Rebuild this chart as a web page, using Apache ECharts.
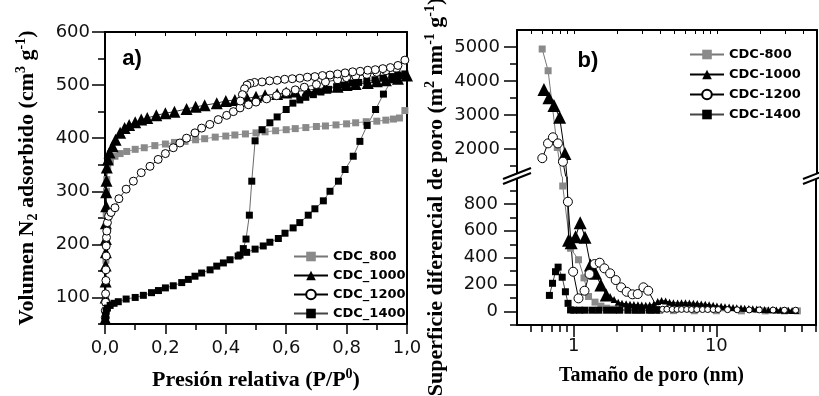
<!DOCTYPE html>
<html><head><meta charset="utf-8">
<script src="https://cdn.jsdelivr.net/npm/echarts@6/dist/echarts.min.js"></script>
<style>html,body{margin:0;padding:0;background:#fff}#c{width:819px;height:396px}</style>
</head><body><div id="c"></div>
<script>
// ---------- Panel a: N2 isotherms ----------
const isoNames = ['CDC_800', 'CDC_1000', 'CDC_1200', 'CDC_1400'];
const iso800 = [[0.002,62],[0.002,90],[0.003,130],[0.003,170],[0.004,210],[0.004,257],[0.005,300],[0.006,322],[0.009,345],[0.018,358],[0.033,366],[0.05,371],[0.072,375],[0.1,379],[0.13,382],[0.165,386],[0.2,389],[0.23,392],[0.265,394],[0.3,397],[0.33,399],[0.365,402],[0.4,404],[0.43,406],[0.465,408],[0.5,410],[0.53,412],[0.565,414],[0.6,416],[0.63,418],[0.665,420],[0.7,422],[0.73,423],[0.765,425],[0.8,427],[0.83,429],[0.865,431],[0.9,432],[0.93,434],[0.955,436],[0.975,438],[0.993,452]];
const iso1000 = [[0.001,60],[0.002,100],[0.002,130],[0.002,160],[0.003,185],[0.003,210],[0.003,240],[0.004,272],[0.004,298],[0.005,320],[0.006,345],[0.01,360],[0.015,373],[0.025,385],[0.035,397],[0.05,410],[0.065,419],[0.08,425],[0.1,430],[0.12,435],[0.14,438],[0.17,443],[0.2,447],[0.23,450],[0.27,455],[0.3,459],[0.33,462],[0.37,466],[0.4,470],[0.43,472],[0.47,475],[0.5,478],[0.53,481],[0.57,483],[0.6,486],[0.63,488],[0.67,490],[0.7,493],[0.73,495],[0.77,497],[0.8,500],[0.83,502],[0.87,504],[0.9,507],[0.93,509],[0.97,512],[1.0,518]];
const iso1200 = [[0.001,62],[0.001,75],[0.002,91],[0.002,107],[0.003,132],[0.003,152],[0.004,178],[0.004,197],[0.005,213],[0.006,225],[0.008,241],[0.012,253],[0.02,260],[0.033,269],[0.046,286],[0.07,304],[0.094,319],[0.12,335],[0.149,347],[0.176,360],[0.2,371],[0.226,382],[0.248,391],[0.27,400],[0.298,410],[0.32,419],[0.347,426],[0.375,435],[0.403,443],[0.425,450],[0.447,457],[0.475,463],[0.5,468],[0.535,474],[0.568,480],[0.6,486],[0.63,491],[0.66,496],[0.7,501],[0.73,506],[0.77,510],[0.8,514],[0.83,517],[0.867,520],[0.9,524],[0.93,527],[0.965,531],[0.993,547],[0.97,537],[0.945,533],[0.92,531],[0.895,529],[0.87,528],[0.845,526],[0.82,525],[0.795,523],[0.77,521],[0.745,519],[0.72,518],[0.695,516],[0.67,515],[0.645,513],[0.62,512],[0.595,511],[0.57,509],[0.545,508],[0.52,506],[0.495,505],[0.48,503],[0.47,500],[0.462,493],[0.455,482],[0.448,470]];
const iso1400 = [[0.001,58],[0.002,66],[0.004,74],[0.008,80],[0.017,85],[0.03,89],[0.044,92],[0.07,97],[0.1,100],[0.127,104],[0.154,109],[0.177,113],[0.2,118],[0.226,122],[0.254,128],[0.276,134],[0.298,140],[0.32,146],[0.348,152],[0.37,159],[0.392,165],[0.414,171],[0.441,178],[0.469,185],[0.497,191],[0.524,197],[0.546,204],[0.574,211],[0.596,221],[0.623,231],[0.645,241],[0.673,255],[0.695,267],[0.723,282],[0.745,300],[0.773,319],[0.795,341],[0.822,366],[0.844,394],[0.868,424],[0.896,454],[0.922,483],[0.95,510],[0.975,517],[0.993,521],[0.97,519],[0.95,516],[0.92,513],[0.894,510],[0.867,507],[0.84,505],[0.817,504],[0.79,500],[0.767,497],[0.74,492],[0.715,487],[0.69,482],[0.665,477],[0.645,472],[0.622,466],[0.6,454],[0.57,440],[0.546,429],[0.52,416],[0.497,395],[0.486,319],[0.478,255],[0.467,210],[0.458,192],[0.447,180]];
const xLabelsA = [0, 0.2, 0.4, 0.6, 0.8, 1.0];
const yLabelsA = [100, 200, 300, 400, 500, 600];

// ---------- Panel b: differential surface area ----------
const psdNames = ['CDC-800', 'CDC-1000', 'CDC-1200', 'CDC-1400'];
const psd800 = [[0.60,4940],[0.66,4300],[0.765,2040],[0.837,933],[0.95,470],[1.08,385],[1.18,250],[1.27,112],[1.41,70],[1.55,40],[1.7,25],[1.9,18],[2.1,15],[2.4,12],[2.7,10],[3.0,10],[3.5,8],[4.0,8],[5,7],[7,6],[10,6],[15,5],[22,5],[30,5],[37,5]];
const psd1000 = [[0.617,3744],[0.669,3506],[0.725,3277],[0.794,2930],[0.865,1860],[0.92,530],[0.96,512],[1.03,556],[1.11,660],[1.2,552],[1.31,346],[1.42,284],[1.55,197],[1.69,123],[1.8,112],[1.92,90],[2.05,70],[2.18,62],[2.33,58],[2.48,55],[2.64,52],[2.82,50],[3.0,48],[3.2,47],[3.41,48],[3.64,55],[3.88,75],[4.13,82],[4.41,78],[4.7,70],[5.0,66],[5.35,64],[5.7,65],[6.07,66],[6.47,64],[6.9,62],[7.35,60],[7.84,57],[8.36,54],[8.9,50],[9.5,46],[10.1,42],[10.8,39],[11.5,36],[12.3,33],[13.1,30],[13.9,28],[14.9,26],[15.8,24],[16.9,22],[18,20],[19.2,18],[20.4,17],[21.8,15],[23.2,14],[24.8,13],[26.4,12],[28.1,11],[30,10],[32,9],[34,8],[36,8]];
const psd1200 = [[0.601,1725],[0.659,2160],[0.713,2340],[0.773,2160],[0.838,1620],[0.91,816],[0.99,296],[1.08,98],[1.19,155],[1.29,279],[1.4,353],[1.52,363],[1.64,321],[1.8,284],[1.97,234],[2.15,180],[2.35,147],[2.58,128],[2.81,130],[3.08,180],[3.33,155],[3.9,18],[4.2,17],[4.5,17],[4.9,16],[5.3,16],[5.7,16],[6.2,16],[6.7,15],[7.3,15],[8,15],[8.7,15],[9.5,15],[10.3,15],[12,14],[14,13],[17,12],[20,12],[25,11],[30,10],[36,10]];
const psd1400 = [[0.675,120],[0.71,210],[0.745,296],[0.777,330],[0.83,255],[0.874,147],[0.912,61],[0.95,12],[1.0,10],[1.1,10],[1.2,10],[1.35,10],[1.5,10],[1.7,10],[1.9,10],[2.1,10],[2.4,10],[2.7,10],[3.0,10],[3.4,10],[3.8,10]];
const yLabelsBUpper = [2000, 3000, 4000, 5000];
const yMinorBUpper = [1500, 2500, 3500, 4500];
const yLabelsBLower = [0, 200, 400, 600, 800];
const yMinorBLower = [-100, 100, 300, 500, 700, 900];
const poreMajorTicks = [1, 10];
const poreMinorTicks = [0.5, 0.6, 0.7, 0.8, 0.9, 2, 3, 4, 5, 6, 7, 8, 9, 20, 30, 40, 50];

// ---------- styling ----------
const marks = [
  { symbol: 'rect', sizeA: 7, sizeB: 7, color: '#8a8a8a', border: '#8a8a8a', bw: 0, line: '#777' },
  { symbol: 'triangle', sizeA: 12, sizeB: 13, color: '#000', border: '#000', bw: 0, line: '#000' },
  { symbol: 'circle', sizeA: 8, sizeB: 9, color: '#fff', border: '#000', bw: 1, line: '#000' },
  { symbol: 'rect', sizeA: 7, sizeB: 7, color: '#000', border: '#000', bw: 0, line: '#444' }
];
// tail markers (pore size > ~1.8 nm) are drawn smaller in the reference
const tailSize = [7, 7, 6, 7];
const tickFont = { fontFamily: 'DejaVu Sans', fontSize: 18, color: '#111' };
function richFor(fs) {
  return {
    b: { fontFamily: 'Liberation Serif', fontWeight: 'bold', fontSize: fs, lineHeight: fs + 4, color: '#000' },
    sup: { fontFamily: 'Liberation Serif', fontWeight: 'bold', fontSize: Math.round(fs * 0.62), lineHeight: Math.round(fs * 0.62), verticalAlign: 'top', color: '#000' },
    sub: { fontFamily: 'Liberation Serif', fontWeight: 'bold', fontSize: Math.round(fs * 0.62), lineHeight: Math.round(fs * 0.62), verticalAlign: 'bottom', color: '#000' }
  };
}
const frame = { show: true, onZero: false, lineStyle: { color: '#000', width: 2 } };
const lg = Math.log10;
const poreMin = 0.4, poreMax = 50;

function ser(name, data, m, xi, yi, size, lw) {
  return {
    name, type: 'line', data, xAxisIndex: xi, yAxisIndex: yi,
    symbol: m.symbol, symbolSize: size,
    itemStyle: { color: m.color, borderColor: m.border, borderWidth: m.bw },
    lineStyle: { color: m.line, width: lw },
    emphasis: { disabled: true }, silent: true, animation: false
  };
}

const isoData = [iso800, iso1000, iso1200, iso1400];
const psdData = [psd800, psd1000, psd1200, psd1400];
const series = [];
isoData.forEach((d, i) => series.push(ser(isoNames[i], d, marks[i], 0, 0, marks[i].sizeA, 0.8)));
psdData.forEach((d, i) => {
  const sz = v => (v[0] > (i === 2 ? 3.6 : 1.75) ? tailSize[i] : marks[i].sizeB);
  series.push(ser(psdNames[i], d, marks[i], 2, 3, sz, 1));
  series.push(ser(psdNames[i], d, marks[i], 4, 6, sz, 1));
});

const fmtComma = v => v.toFixed(1).replace('.', ',');
const fmtPlain = v => String(v);
const hidden = { show: false };

const option = {
  animation: false,
  backgroundColor: '#fff',
  grid: [
    { left: 105, top: 32, width: 302, height: 293 },
    { left: 517, top: 30, width: 300, height: 146 },
    { left: 517, top: 177, width: 300, height: 148 }
  ],
  xAxis: [
    { gridIndex: 0, type: 'value', position: 'bottom', min: 0, max: 1, interval: 0.2,
      axisLine: frame, splitLine: hidden,
      axisTick: { length: 10, lineStyle: { width: 1.5, color: '#000' } },
      minorTick: { show: true, splitNumber: 2, length: 6, lineStyle: { width: 1.5, color: '#000' } },
      axisLabel: Object.assign({ margin: 15, formatter: fmtComma, customValues: xLabelsA }, tickFont),
      name: '{b|Presión relativa (P/P}{sup|0}{b|)}', nameLocation: 'middle', nameGap: 43,
      nameTextStyle: { rich: richFor(22) } },
    { gridIndex: 0, type: 'value', position: 'top', min: 0, max: 1, interval: 0.1,
      axisLine: frame, splitLine: hidden, axisLabel: hidden,
      axisTick: { inside: true, length: 4, lineStyle: { width: 1, color: '#000' } } },
    { gridIndex: 1, type: 'log', position: 'top', min: poreMin, max: poreMax,
      axisLine: frame, splitLine: hidden, axisLabel: hidden, axisTick: hidden },
    { gridIndex: 1, type: 'value', position: 'top', min: lg(poreMin), max: lg(poreMax),
      axisLine: { show: false }, splitLine: hidden, axisLabel: hidden,
      axisTick: { inside: true, length: 4, lineStyle: { width: 1, color: '#000' },
        customValues: poreMinorTicks.concat(poreMajorTicks).map(lg) } },
    { gridIndex: 2, type: 'log', position: 'bottom', min: poreMin, max: poreMax,
      axisLine: frame, splitLine: hidden, axisTick: hidden,
      axisLabel: Object.assign({ margin: 12, formatter: v => {
        const l = Math.log10(v); return Math.abs(l - Math.round(l)) < 1e-6 ? String(Math.round(v)) : ''; } }, tickFont),
      name: '{b|Tamaño de poro (nm)}', nameLocation: 'middle', nameGap: 39,
      nameTextStyle: { rich: richFor(20), padding: [0, 30, 0, 0] } },
    { gridIndex: 2, type: 'value', position: 'bottom', min: lg(poreMin), max: lg(poreMax),
      axisLine: { show: false, onZero: false }, splitLine: hidden, axisLabel: hidden,
      axisTick: { length: 12, lineStyle: { width: 1.5, color: '#000' }, customValues: poreMajorTicks.map(lg) } },
    { gridIndex: 2, type: 'value', position: 'bottom', min: lg(poreMin), max: lg(poreMax),
      axisLine: { show: false, onZero: false }, splitLine: hidden, axisLabel: hidden,
      axisTick: { length: 7, lineStyle: { width: 1.5, color: '#000' }, customValues: poreMinorTicks.map(lg) } }
  ],
  yAxis: [
    { gridIndex: 0, type: 'value', position: 'left', min: 50, max: 600,
      axisLine: frame, splitLine: hidden,
      axisTick: { length: 13, lineStyle: { width: 1.5, color: '#000' }, customValues: yLabelsA },
      axisLabel: Object.assign({ margin: 15, customValues: yLabelsA, formatter: fmtPlain }, tickFont),
      name: '{b|Volumen N}{sub|2}{b| adsorbido (cm}{sup|3}{b| g}{sup|-1}{b|)}',
      nameLocation: 'middle', nameGap: 65, nameRotate: 90, nameTextStyle: { rich: richFor(22) } },
    { gridIndex: 0, type: 'value', position: 'left', min: 50, max: 600, interval: 50,
      axisLine: { show: false, onZero: false }, splitLine: hidden, axisLabel: hidden,
      axisTick: { length: 7, lineStyle: { width: 1.5, color: '#000' } } },
    { gridIndex: 0, type: 'value', position: 'right', min: 50, max: 600,
      axisLine: frame, splitLine: hidden, axisLabel: hidden, axisTick: hidden },
    { gridIndex: 1, type: 'value', position: 'left', min: 1200, max: 5500,
      axisLine: frame, splitLine: hidden,
      axisTick: { length: 13, lineStyle: { width: 1.5, color: '#000' }, customValues: yLabelsBUpper },
      axisLabel: Object.assign({ margin: 17, customValues: yLabelsBUpper, formatter: fmtPlain }, tickFont) },
    { gridIndex: 1, type: 'value', position: 'left', min: 1200, max: 5500,
      axisLine: { show: false, onZero: false }, splitLine: hidden, axisLabel: hidden,
      axisTick: { length: 7, lineStyle: { width: 1.5, color: '#000' }, customValues: yMinorBUpper } },
    { gridIndex: 1, type: 'value', position: 'right', min: 1200, max: 5500,
      axisLine: frame, splitLine: hidden, axisLabel: hidden, axisTick: hidden },
    { gridIndex: 2, type: 'value', position: 'left', min: -100, max: 1000,
      axisLine: frame, splitLine: hidden,
      axisTick: { length: 13, lineStyle: { width: 1.5, color: '#000' }, customValues: yLabelsBLower },
      axisLabel: Object.assign({ margin: 19, customValues: yLabelsBLower, formatter: fmtPlain }, tickFont) },
    { gridIndex: 2, type: 'value', position: 'left', min: -100, max: 1000,
      axisLine: { show: false, onZero: false }, splitLine: hidden, axisLabel: hidden,
      axisTick: { length: 7, lineStyle: { width: 1.5, color: '#000' }, customValues: yMinorBLower } },
    { gridIndex: 2, type: 'value', position: 'right', min: -100, max: 1000,
      axisLine: frame, splitLine: hidden, axisLabel: hidden, axisTick: hidden }
  ],
  legend: [
    { data: isoNames, orient: 'vertical', left: 288, top: 245, itemWidth: 34, itemHeight: 12, itemGap: 6,
      textStyle: { fontFamily: 'DejaVu Sans', fontWeight: 'bold', fontSize: 13, color: '#000' },
      selectedMode: false },
    { data: psdNames, orient: 'vertical', left: 684, top: 43, itemWidth: 34, itemHeight: 12, itemGap: 7,
      textStyle: { fontFamily: 'DejaVu Sans', fontWeight: 'bold', fontSize: 13, color: '#000' },
      selectedMode: false }
  ],
  graphic: [
    { type: 'text', x: 132, y: 59, style: { text: 'a)', font: 'bold 22px "Liberation Sans"', fill: '#000', align: 'center', verticalAlign: 'middle' } },
    { type: 'text', x: 588, y: 61, style: { text: 'b)', font: 'bold 22px "Liberation Sans"', fill: '#000', align: 'center', verticalAlign: 'middle' } },
    { type: 'text', x: 436, y: 197, rotation: Math.PI / 2,
      style: { text: '{b|Superficie diferencial de poro (m}{sup|2}{b| nm}{sup|-1}{b| g}{sup|-1}{b|)}', rich: richFor(22), align: 'center', verticalAlign: 'middle' } },
    // axis-break marks
    { type: 'polygon', shape: { points: [[503,179],[531,168],[531,173],[503,184]] }, style: { fill: '#fff' }, z: 100 },
    { type: 'line', shape: { x1: 503, y1: 179, x2: 531, y2: 168 }, style: { stroke: '#000', lineWidth: 2 }, z: 101 },
    { type: 'line', shape: { x1: 503, y1: 184, x2: 531, y2: 173 }, style: { stroke: '#000', lineWidth: 2 }, z: 101 },
    { type: 'polygon', shape: { points: [[803,179],[831,168],[831,173],[803,184]] }, style: { fill: '#fff' }, z: 100 },
    { type: 'line', shape: { x1: 803, y1: 179, x2: 831, y2: 168 }, style: { stroke: '#000', lineWidth: 2 }, z: 101 },
    { type: 'line', shape: { x1: 803, y1: 184, x2: 831, y2: 173 }, style: { stroke: '#000', lineWidth: 2 }, z: 101 }
  ],
  series
};

const chart = echarts.init(document.getElementById('c'), null, { renderer: 'canvas' });
chart.setOption(option);
</script>
</body></html>
